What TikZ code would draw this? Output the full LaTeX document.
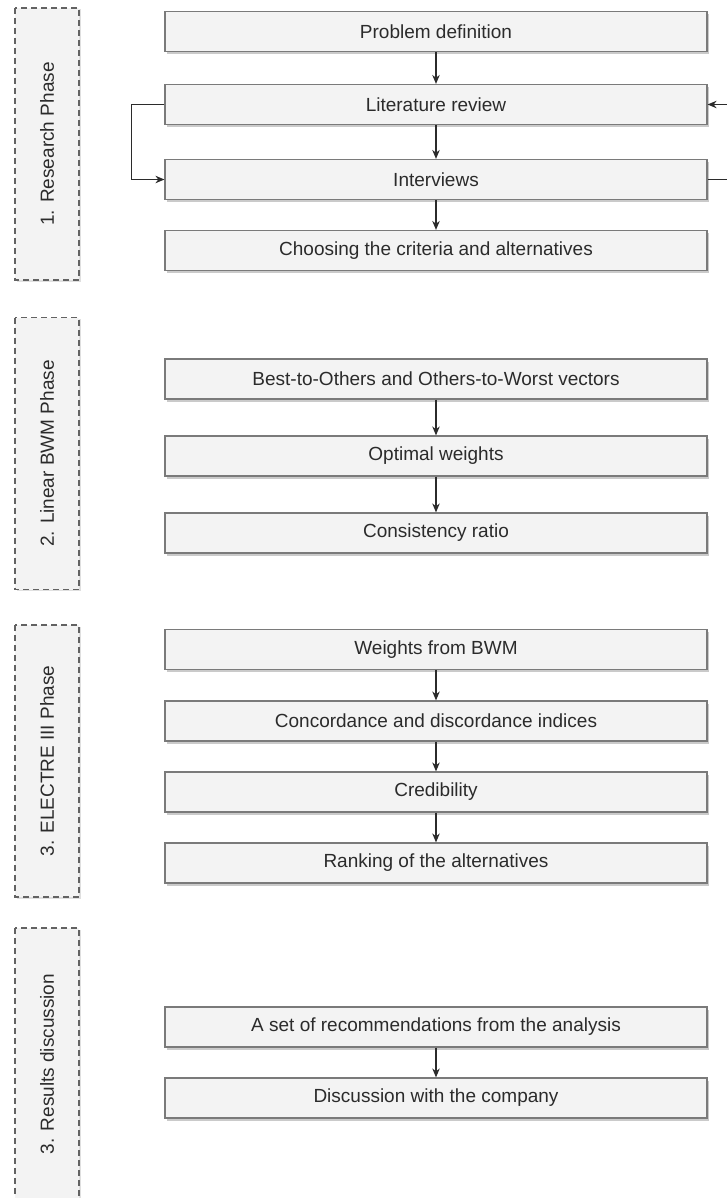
\documentclass[tikz,border=0pt]{standalone}
\usepackage{fontspec}
\setmainfont{Liberation Sans}
\usetikzlibrary{arrows.meta,shadows}

\definecolor{boxfill}{HTML}{F3F3F3}
\definecolor{boxline}{HTML}{7A7A7A}
\definecolor{inktext}{HTML}{2B2B2B}

\tikzset{
	stepbox/.style={draw=boxline, fill=boxfill, line width=1.2pt,
		minimum width=542pt, minimum height=40pt, inner sep=0pt,
		text=inktext, font=\fontsize{19}{22}\selectfont,
		drop shadow={shadow xshift=2pt, shadow yshift=-2.5pt, fill=black!35, opacity=.6}},
	phasebox/.style={draw=boxline!80!black, fill=boxfill, line width=1.3pt,
		dash pattern=on 6pt off 4pt, rotate=90,
		minimum width=272pt, minimum height=64pt, inner sep=0pt,
		text=inktext, font=\fontsize{19}{22}\selectfont,
		drop shadow={shadow xshift=1.5pt, shadow yshift=-1.5pt, fill=black!25, opacity=.5}},
	link/.style={draw=inktext, line width=1.2pt, -{Stealth[length=9pt,width=7.5pt]}}
}

\begin{document}
\begin{tikzpicture}[x=1pt, y=-1pt]
	\useasboundingbox (0,0) rectangle (727,1198);

	% phases
	\node[phasebox] (ph1) at (47,144) {1. Research Phase};
	\node[phasebox] (ph2) at (47,453.5) {2. Linear BWM Phase};
	\node[phasebox] (ph3) at (47,761) {3. ELECTRE III Phase};
	\node[phasebox] (ph4) at (47,1064) {3. Results discussion};

	% steps
	\node[stepbox] (prob) at (436,31.5) {Problem definition};
	\node[stepbox] (lit) at (436,104.5) {Literature review};
	\node[stepbox] (inter) at (436,179.5) {Interviews};
	\node[stepbox] (crit) at (436,250.5) {Choosing the criteria and alternatives};

	\node[stepbox] (vec) at (436,379) {Best-to-Others and Others-to-Worst vectors};
	\node[stepbox] (opt) at (436,456) {Optimal weights};
	\node[stepbox] (cons) at (436,533) {Consistency ratio};

	\node[stepbox] (wbwm) at (436,649.5) {Weights from BWM};
	\node[stepbox] (conc) at (436,721) {Concordance and discordance indices};
	\node[stepbox] (cred) at (436,792) {Credibility};
	\node[stepbox] (rank) at (436,863) {Ranking of the alternatives};

	\node[stepbox] (reco) at (436,1027) {A set of recommendations from the analysis};
	\node[stepbox] (disc) at (436,1098) {Discussion with the company};

	\foreach \a/\b in {prob/lit, lit/inter, inter/crit, vec/opt, opt/cons,
		wbwm/conc, conc/cred, cred/rank, reco/disc}
		\draw[link] (\a) -- (\b);

	% loops between review and interviews
	\draw
		[link] (lit.west) -- ++(-33,0) |- (inter.west);

	\draw
		[link] (inter.east) -- ++(35,0) |- (lit.east);
\end{tikzpicture}
\end{document}
